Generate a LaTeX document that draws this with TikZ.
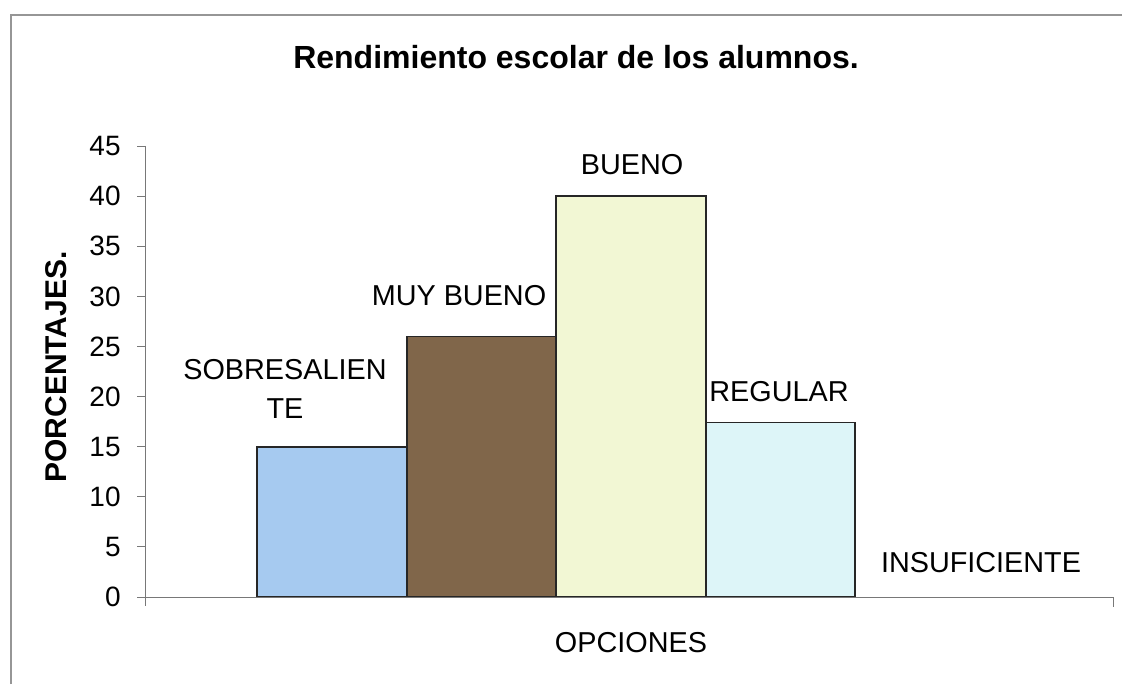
\documentclass[tikz,border=0pt]{standalone}
\usepackage{fontspec}
\setmainfont{Liberation Sans}
\usetikzlibrary{positioning}
\definecolor{barblue}{RGB}{166,202,240}
\definecolor{barbrown}{RGB}{128,102,74}
\definecolor{baryellow}{RGB}{242,247,212}
\definecolor{barcyan}{RGB}{221,245,248}
\definecolor{axisgray}{RGB}{120,120,120}
\definecolor{framegray}{RGB}{150,150,150}

\begin{document}
\begin{tikzpicture}[
  x=0.5pt,y=-0.5pt,
  bar/.style={draw=black!85,line width=0.8pt},
  lbl/.style={font=\fontsize{14.4}{19.5}\selectfont,inner sep=0pt,align=center},
  tick/.style={font=\fontsize{14}{16}\selectfont,inner sep=0pt,anchor=east},
  axis/.style={draw=axisgray,line width=0.5pt}
]
  \useasboundingbox (0,0) rectangle (1122,684);
  % frame
  \draw[framegray,line width=0.6pt] (11,684) -- (11,15) -- (1122,15);
  \node[font=\fontsize{16}{19}\selectfont\bfseries,inner sep=0pt] (title) at (576,57) {Rendimiento escolar de los alumnos.};
  % bars
  \draw[bar,fill=barblue]   (257,597) rectangle (407,{597-10.02*15});
  \draw[bar,fill=barbrown]  (407,597) rectangle (556,{597-10.02*26});
  \draw[bar,fill=baryellow] (556,597) rectangle (706,{597-10.02*40});
  \draw[bar,fill=barcyan]   (706,597) rectangle (855,{597-10.02*17.4});
  % axes
  \draw[axis] (145,146) -- (145,606);
  \draw[axis] (137,597) -- (1113,597) -- (1113,607);
  \foreach \v in {0,5,...,45}{
    \draw[axis] (137,{597-10.02*\v}) -- (145,{597-10.02*\v});
    \node[tick] at (121,{597-10.02*\v}) {\v};
  }
  % labels
  \node[lbl] (sob) at (285,388.5) {SOBRESALIEN\\TE};
  \node[lbl] (muy) at (459,296) {MUY BUENO};
  \node[lbl] (bue) at (632,165) {BUENO};
  \node[lbl] (reg) at (779,392) {REGULAR};
  \node[lbl] (ins) at (981,563) {INSUFICIENTE};
  \node[lbl] (opc) at (631,643) {OPCIONES};
  \node[font=\fontsize{15}{17}\selectfont\bfseries,inner sep=0pt,rotate=90] (pct) at (56,367) {PORCENTAJES.};
\end{tikzpicture}
\end{document}
